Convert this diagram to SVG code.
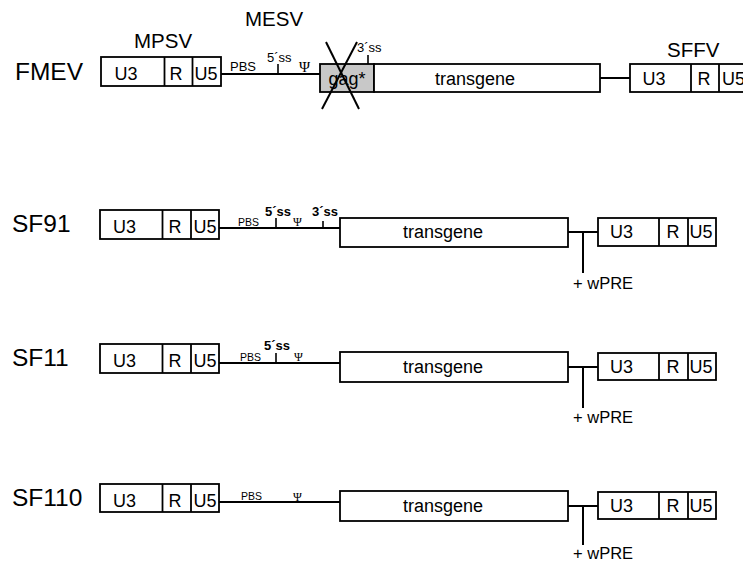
<svg xmlns="http://www.w3.org/2000/svg" width="743" height="562" viewBox="0 0 743 562">
<style>
text{font-family:"Liberation Sans",Arial,sans-serif;fill:#000}
.box{fill:#fff;stroke:#000;stroke-width:1.8}
.gag{fill:#c8c8c8;stroke:#000;stroke-width:1.8}
.dv{stroke:#000;stroke-width:1.8;fill:none}
.ln{stroke:#000;stroke-width:2;fill:none}
.tk{stroke:#000;stroke-width:1.6;fill:none}
.lbl{font-size:24.5px}
.virus{font-size:20.5px}
.ltr{font-size:18px;text-anchor:middle}
.tg{font-size:18px;text-anchor:middle}
.pbs{font-size:13px}
.pbss{font-size:10.5px}
.ss{font-size:13px}
.ssb{font-size:13px;font-weight:bold}
.psi{font-family:"Liberation Serif","DejaVu Serif",serif;font-size:15px}
.psis{font-family:"Liberation Serif","DejaVu Serif",serif;font-size:12px}
.wpre{font-size:16.5px}
</style>
<rect width="743" height="562" fill="#fff"/>

<g id="labels">
<text class="lbl" x="15" y="80">FMEV</text>
<text class="virus" x="134" y="48">MPSV</text>
<text class="virus" x="245" y="26">MESV</text>
<text class="virus" x="667" y="57">SFFV</text>
<text class="lbl" x="12" y="232">SF91</text>
<text class="lbl" x="12" y="366">SF11</text>
<text class="lbl" x="12" y="506">SF110</text>
</g>

<!-- FMEV -->
<g id="fmev-ltr5">
<rect class="box" x="101" y="57" width="120" height="29"/>
<line class="dv" x1="164.5" y1="57" x2="164.5" y2="86"/>
<line class="dv" x1="192.5" y1="57" x2="192.5" y2="86"/>
<text class="ltr" x="126" y="80">U3</text>
<text class="ltr" x="176" y="80">R</text>
<text class="ltr" x="206" y="80">U5</text>
</g>
<g id="fmev-gag">
<rect class="gag" x="320" y="64" width="54" height="28"/>
<text x="347" y="85" style="font-size:18px;text-anchor:middle">gag*</text>
<line class="ln" x1="326" y1="42" x2="359" y2="109"/>
<line class="ln" x1="357" y1="42" x2="322" y2="109"/>
</g>
<g id="fmev-transgene">
<rect class="box" x="374" y="64" width="226" height="28"/>
<text class="tg" x="475" y="85">transgene</text>
</g>
<g id="fmev-ltr3">
<rect class="box" x="630" y="64" width="130" height="28"/>
<line class="dv" x1="691" y1="64" x2="691" y2="92"/>
<line class="dv" x1="719" y1="64" x2="719" y2="92"/>
<text class="ltr" x="654" y="85">U3</text>
<text class="ltr" x="704" y="85">R</text>
<text x="722" y="85" style="font-size:18px">U5</text>
</g>
<g id="fmev-elements">
<text class="pbs" x="230" y="71">PBS</text>
<text class="ss" x="267" y="62">5´ss</text>
<text class="psi" x="299" y="72">Ψ</text>
<text class="ss" x="357" y="52">3´ss</text>
</g>

<!-- SF91 -->
<g id="sf91-ltr5">
<rect class="box" x="100" y="210" width="119" height="29"/>
<line class="dv" x1="162.5" y1="210" x2="162.5" y2="239"/>
<line class="dv" x1="191" y1="210" x2="191" y2="239"/>
<text class="ltr" x="124.5" y="233">U3</text>
<text class="ltr" x="175" y="233">R</text>
<text class="ltr" x="205" y="233">U5</text>
</g>
<g id="sf91-transgene">
<rect class="box" x="340" y="218" width="228" height="29"/>
<text class="tg" x="443" y="238">transgene</text>
</g>
<g id="sf91-ltr3">
<rect class="box" x="598" y="218" width="118" height="28"/>
<line class="dv" x1="659" y1="218" x2="659" y2="246"/>
<line class="dv" x1="688" y1="218" x2="688" y2="246"/>
<text class="ltr" x="621.5" y="238">U3</text>
<text class="ltr" x="673" y="238">R</text>
<text class="ltr" x="701" y="238">U5</text>
</g>
<g id="sf91-elements">
<text class="pbss" x="238" y="226">PBS</text>
<text class="ssb" x="265" y="216">5´ss</text>
<text class="psis" x="293" y="226">Ψ</text>
<text class="ssb" x="312" y="216">3´ss</text>
<text class="wpre" x="573" y="289">+ wPRE</text>
</g>

<!-- SF11 -->
<g id="sf11-ltr5">
<rect class="box" x="100" y="344" width="119" height="29"/>
<line class="dv" x1="162.5" y1="344" x2="162.5" y2="373"/>
<line class="dv" x1="191" y1="344" x2="191" y2="373"/>
<text class="ltr" x="124.5" y="367">U3</text>
<text class="ltr" x="175" y="367">R</text>
<text class="ltr" x="205" y="367">U5</text>
</g>
<g id="sf11-transgene">
<rect class="box" x="340" y="352" width="228" height="30"/>
<text class="tg" x="443" y="373">transgene</text>
</g>
<g id="sf11-ltr3">
<rect class="box" x="598" y="353" width="118" height="27"/>
<line class="dv" x1="659" y1="353" x2="659" y2="380"/>
<line class="dv" x1="688" y1="353" x2="688" y2="380"/>
<text class="ltr" x="621.5" y="373">U3</text>
<text class="ltr" x="673" y="373">R</text>
<text class="ltr" x="701" y="373">U5</text>
</g>
<g id="sf11-elements">
<text class="pbss" x="240" y="361">PBS</text>
<text class="ssb" x="264" y="350">5´ss</text>
<text class="psis" x="294" y="361">Ψ</text>
<text class="wpre" x="573" y="423">+ wPRE</text>
</g>

<!-- SF110 -->
<g id="sf110-ltr5">
<rect class="box" x="100" y="484" width="119" height="28"/>
<line class="dv" x1="162.5" y1="484" x2="162.5" y2="512"/>
<line class="dv" x1="191" y1="484" x2="191" y2="512"/>
<text class="ltr" x="124.5" y="507">U3</text>
<text class="ltr" x="175" y="507">R</text>
<text class="ltr" x="205" y="507">U5</text>
</g>
<g id="sf110-transgene">
<rect class="box" x="340" y="491" width="228" height="30"/>
<text class="tg" x="443" y="512">transgene</text>
</g>
<g id="sf110-ltr3">
<rect class="box" x="598" y="492" width="118" height="27"/>
<line class="dv" x1="659" y1="492" x2="659" y2="519"/>
<line class="dv" x1="688" y1="492" x2="688" y2="519"/>
<text class="ltr" x="621.5" y="512">U3</text>
<text class="ltr" x="673" y="512">R</text>
<text class="ltr" x="701" y="512">U5</text>
</g>
<g id="sf110-elements">
<text class="pbss" x="241" y="500">PBS</text>
<text class="psis" x="293" y="501">Ψ</text>
<text class="wpre" x="573" y="559">+ wPRE</text>
</g>

<g id="connectors">
<line class="ln" x1="221" y1="74" x2="320" y2="74"/>
<line class="tk" x1="278" y1="64" x2="278" y2="74"/>
<line class="tk" x1="368" y1="55" x2="368" y2="64"/>
<line class="ln" x1="600" y1="78" x2="630" y2="78"/>

<line class="ln" x1="219" y1="228" x2="340" y2="228"/>
<line class="tk" x1="276" y1="218" x2="276" y2="228"/>
<line class="tk" x1="323" y1="221" x2="323" y2="229"/>
<line class="ln" x1="568" y1="232" x2="598" y2="232"/>
<line class="ln" x1="583" y1="232" x2="583" y2="273"/>

<line class="ln" x1="219" y1="363" x2="340" y2="363"/>
<line class="tk" x1="276" y1="353" x2="276" y2="363"/>
<line class="ln" x1="568" y1="367" x2="598" y2="367"/>
<line class="ln" x1="583" y1="367" x2="583" y2="408"/>

<line class="ln" x1="219" y1="502" x2="340" y2="502"/>
<line class="ln" x1="568" y1="506" x2="598" y2="506"/>
<line class="ln" x1="583" y1="506" x2="583" y2="545"/>
</g>
</svg>
